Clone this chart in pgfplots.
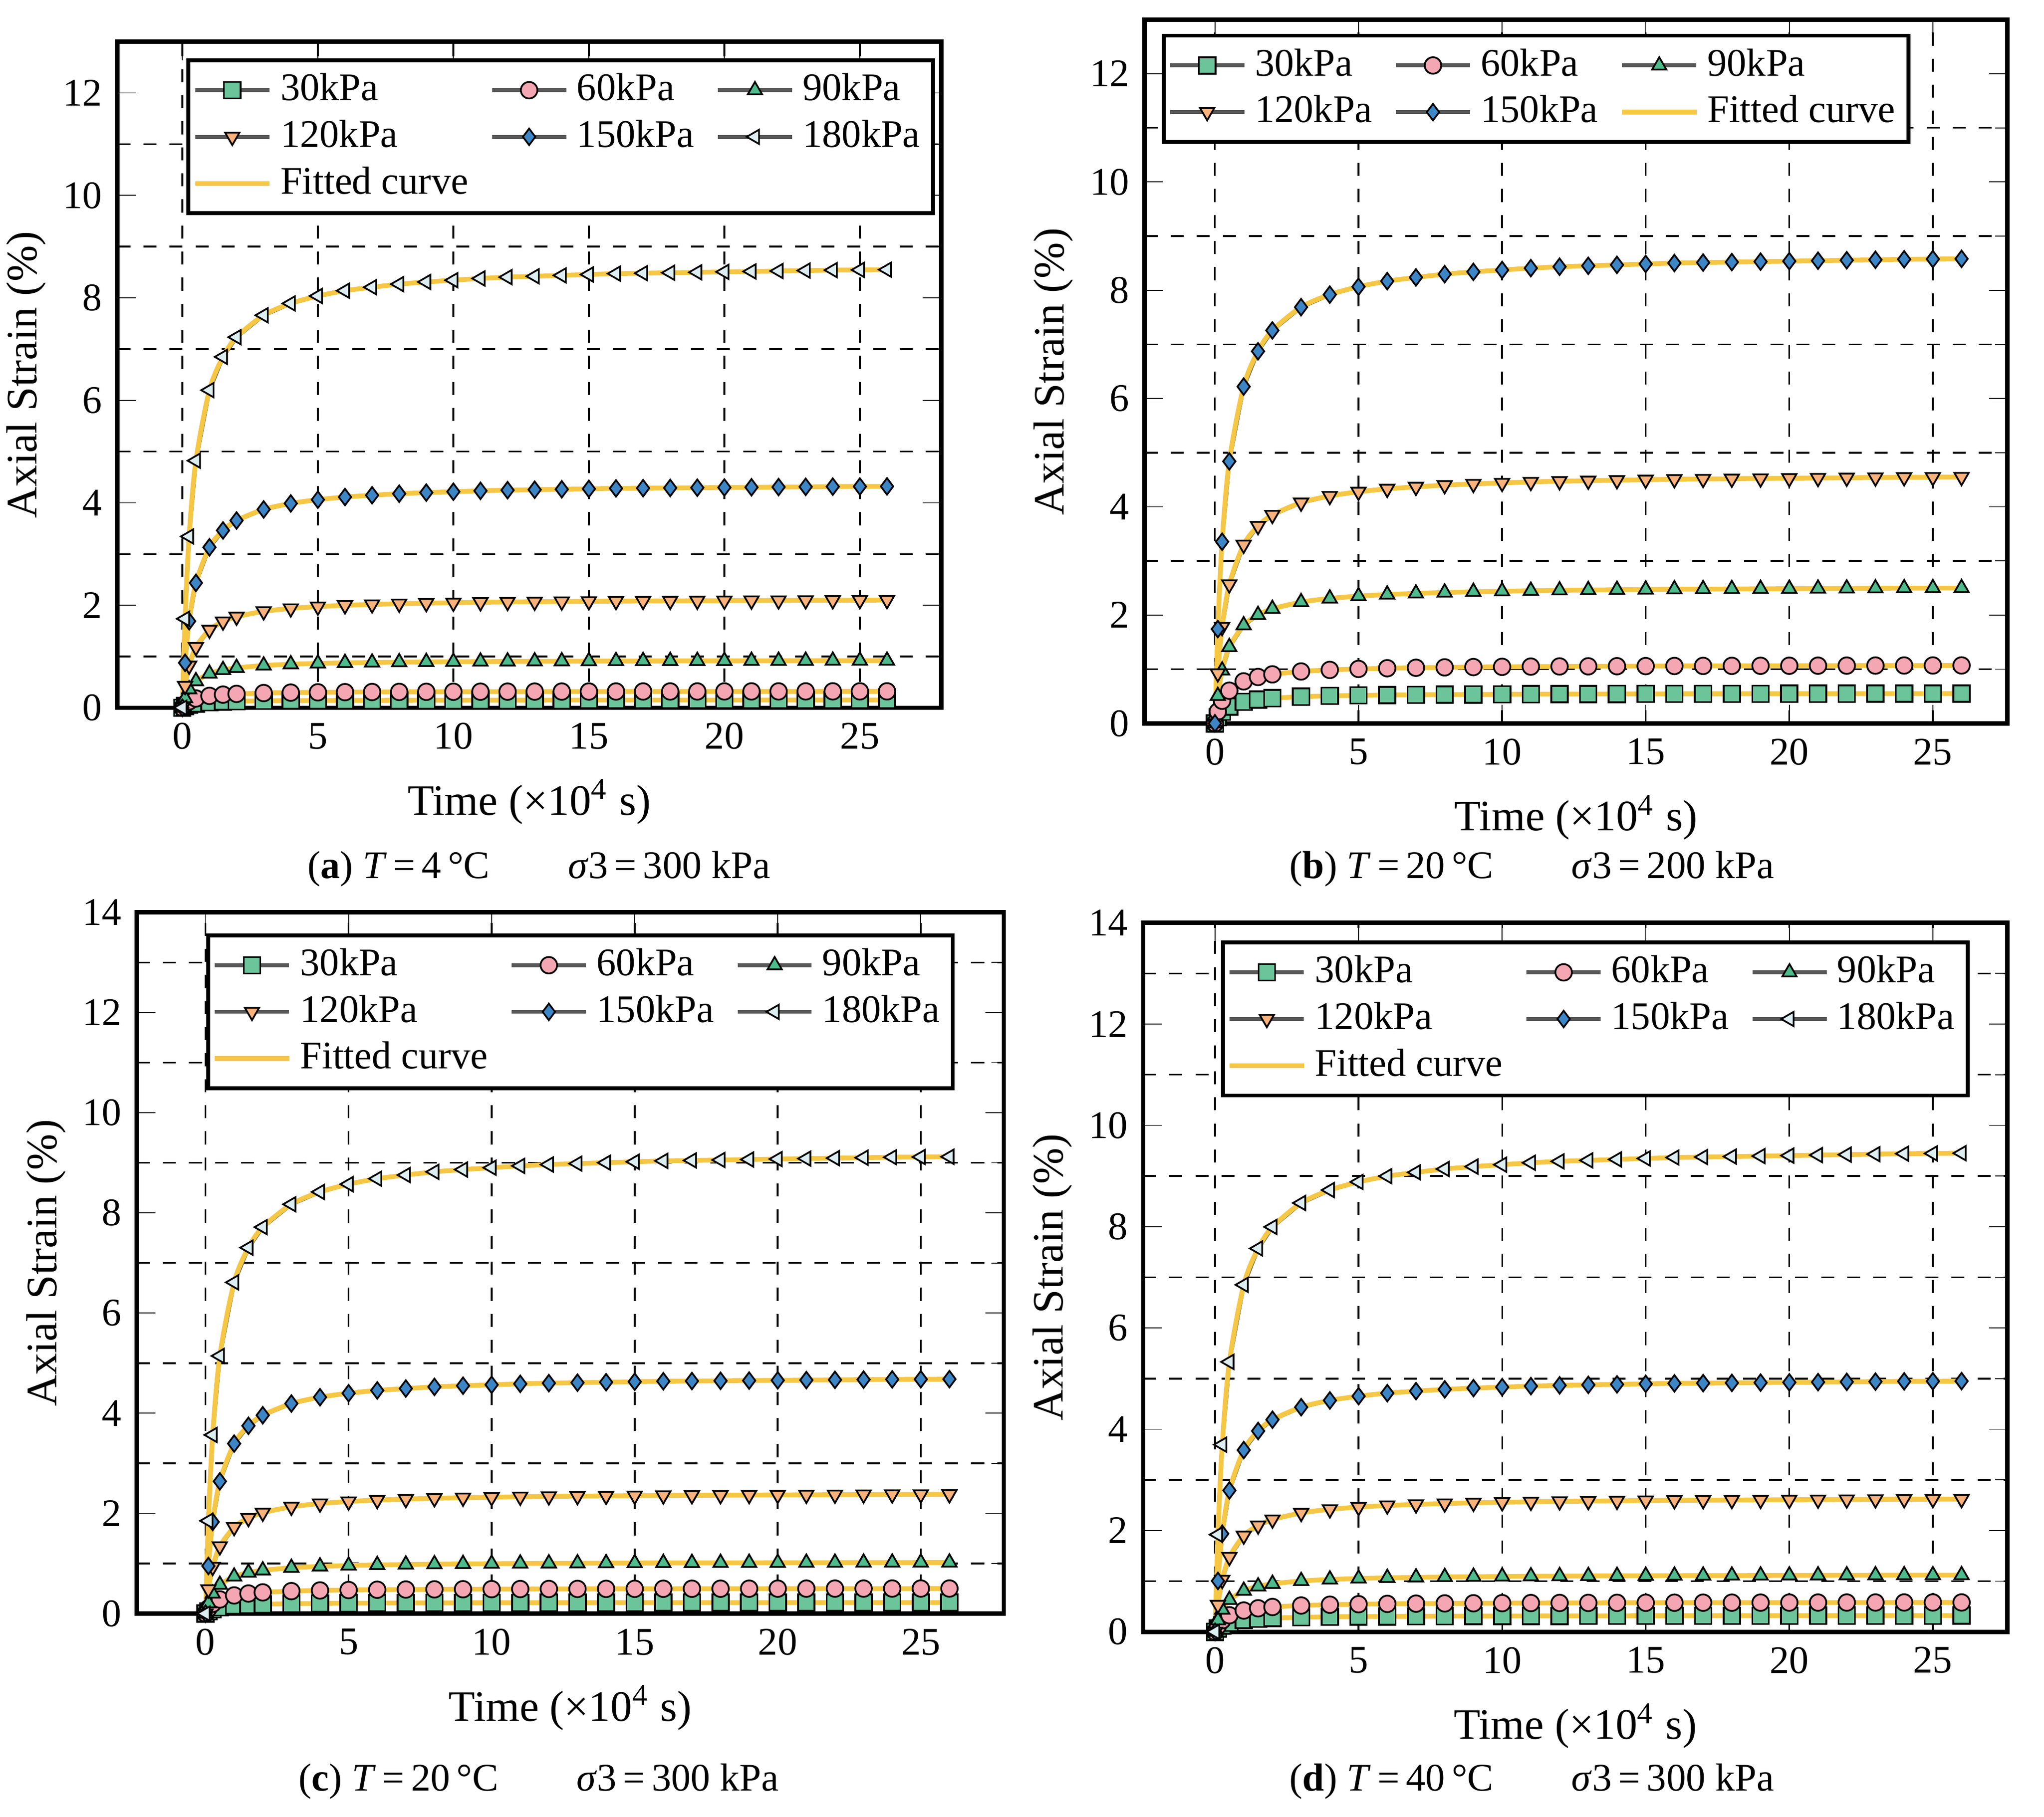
\documentclass[border=0pt]{standalone}
\usepackage{pgfplots}
\pgfplotsset{compat=1.18}
\usepackage{pgfplotstable}
\usepackage{fontspec}
\setmainfont{Liberation Serif}
\definecolor{c30}{HTML}{6CC49A}
\definecolor{c60}{HTML}{F4A7B2}
\definecolor{c90}{HTML}{4DBB8C}
\definecolor{c120}{HTML}{F9B27C}
\definecolor{c150}{HTML}{3D86C6}
\definecolor{c180}{HTML}{DDEEF2}
\definecolor{fitc}{HTML}{F6C744}
\pgfplotstableread{
t h
0 0
0.1 0.203
0.25 0.391
0.5 0.564
1 0.725
1.5 0.801
2 0.846
3 0.896
4 0.923
5 0.940
6 0.952
7 0.960
8 0.967
9 0.972
10 0.976
11 0.980
12 0.983
13 0.985
14 0.987
15 0.989
16 0.991
17 0.992
18 0.993
19 0.994
20 0.995
21 0.996
22 0.997
23 0.998
24 0.999
25 0.9995
26 1
}\shape
\pgfplotsset{
 base/.style={scale only axis, axis line style={line width=1pt},
  xtick={0,5,...,25}, xmajorgrids, major grid style={dashed,black,thin},
  minor y grid style={dashed,black,thin}, yminorgrids,
  tick style={black}, ticklabel style={font=\fontsize{9}{11}\selectfont},
  label style={font=\fontsize{10}{12}\selectfont},
  ylabel style={yshift=-3pt},
  xlabel={Time (×10\textsuperscript{4} s)}, ylabel={Axial Strain (\%)},
  /pgf/number format/assume math mode=true,
  legend columns=3,
  legend style={font=\fontsize{9}{10.5}\selectfont, draw=black, line width=0.9pt,
    anchor=north west, inner sep=1pt, row sep=-1pt,
    /tikz/every even column/.append style={column sep=3pt}},
  legend cell align=left},
 ser/.style 2 args={color=black!65, line width=0.9pt, mark size=1.9pt, mark options={draw=black, line width=0.4pt, fill=#1, rotate=#2}},
 fit/.style={color=fitc, line width=1.1pt, smooth, no marks}
}
\newcommand\ser[4]{\addplot[ser={#3}{#4}, mark=#2] table[x=t, y expr=\thisrow{h}*#1]{\shape};}
\newcommand\fit[1]{\addplot[fit, forget plot] table[x=t, y expr=\thisrow{h}*#1]{\shape};}
\newcommand\six[6]{%
\ser{#1}{square*}{c30}{0}\addlegendentry{30kPa}
\ser{#2}{*}{c60}{0}\addlegendentry{60kPa}
\ser{#3}{triangle*}{c90}{0}\addlegendentry{90kPa}
\ser{#4}{triangle*}{c120}{180}\addlegendentry{120kPa}
\ser{#5}{diamond*}{c150}{0}\addlegendentry{150kPa}
\ser{#6}{triangle*}{c180}{90}\addlegendentry{180kPa}
\addplot[fit] table[x=t, y expr=\thisrow{h}*#1]{\shape};\addlegendentry{Fitted curve}
\fit{#2}\fit{#3}\fit{#4}\fit{#5}\fit{#6}}
\begin{document}
\begin{tikzpicture}
\path[use as bounding box] (0,0) rectangle (470.4pt,-418.2pt);
% (a)
\begin{axis}[base, at={(27pt,-9.6pt)}, anchor=north west, width=189.6pt, height=153.3pt,
 xmin=-2.4, xmax=28, ymin=0, ymax=13, ytick={0,2,...,12}, minor ytick={1,3,...,11},
 legend style={at={(0.084,0.975)}}]
\six{0.15}{0.32}{0.92}{2.1}{4.32}{8.55}
\end{axis}
% (b)
\begin{axis}[base, at={(263.4pt,-4.5pt)}, anchor=north west, width=198.6pt, height=162pt,
 xmin=-2.45, xmax=27.6, ymin=0, ymax=13, ytick={0,2,...,12}, minor ytick={1,3,...,11},
 legend style={at={(0.02,0.98)}}]
\ser{0.55}{square*}{c30}{0}\addlegendentry{30kPa}
\ser{1.07}{*}{c60}{0}\addlegendentry{60kPa}
\ser{2.5}{triangle*}{c90}{0}\addlegendentry{90kPa}
\ser{4.55}{triangle*}{c120}{180}\addlegendentry{120kPa}
\ser{8.58}{diamond*}{c150}{0}\addlegendentry{150kPa}
\addplot[fit] table[x=t, y expr=\thisrow{h}*0.55]{\shape};\addlegendentry{Fitted curve}
\fit{1.07}\fit{2.5}\fit{4.55}\fit{8.58}
\end{axis}
% (c)
\begin{axis}[base, at={(31.5pt,-210pt)}, anchor=north west, width=199.5pt, height=161.4pt,
 xmin=-2.4, xmax=27.9, ymin=0, ymax=14, ytick={0,2,...,14}, minor ytick={1,3,...,13},
 legend style={at={(0.08,0.97)}}]
\six{0.22}{0.5}{1.02}{2.38}{4.68}{9.12}
\end{axis}
% (d)
\begin{axis}[base, at={(263.1pt,-212.4pt)}, anchor=north west, width=198.9pt, height=163.2pt,
 xmin=-2.5, xmax=27.6, ymin=0, ymax=14, ytick={0,2,...,14}, minor ytick={1,3,...,13},
 legend style={at={(0.09,0.975)}}]
\six{0.32}{0.58}{1.12}{2.62}{4.95}{9.45}
\end{axis}
\begin{scope}[every node/.style={font=\fontsize{9}{11}\selectfont}]
\node at (124pt,-200pt) {(\textbf{a}) \textit{T}\,=\,4\,°C\qquad\textit{σ}3\,=\,300 kPa};
\node at (352.5pt,-200pt) {(\textbf{b}) \textit{T}\,=\,20\,°C\qquad\textit{σ}3\,=\,200 kPa};
\node at (124pt,-410pt) {(\textbf{c}) \textit{T}\,=\,20\,°C\qquad\textit{σ}3\,=\,300 kPa};
\node at (352.5pt,-410pt) {(\textbf{d}) \textit{T}\,=\,40\,°C\qquad\textit{σ}3\,=\,300 kPa};
\end{scope}
\end{tikzpicture}
\end{document}
